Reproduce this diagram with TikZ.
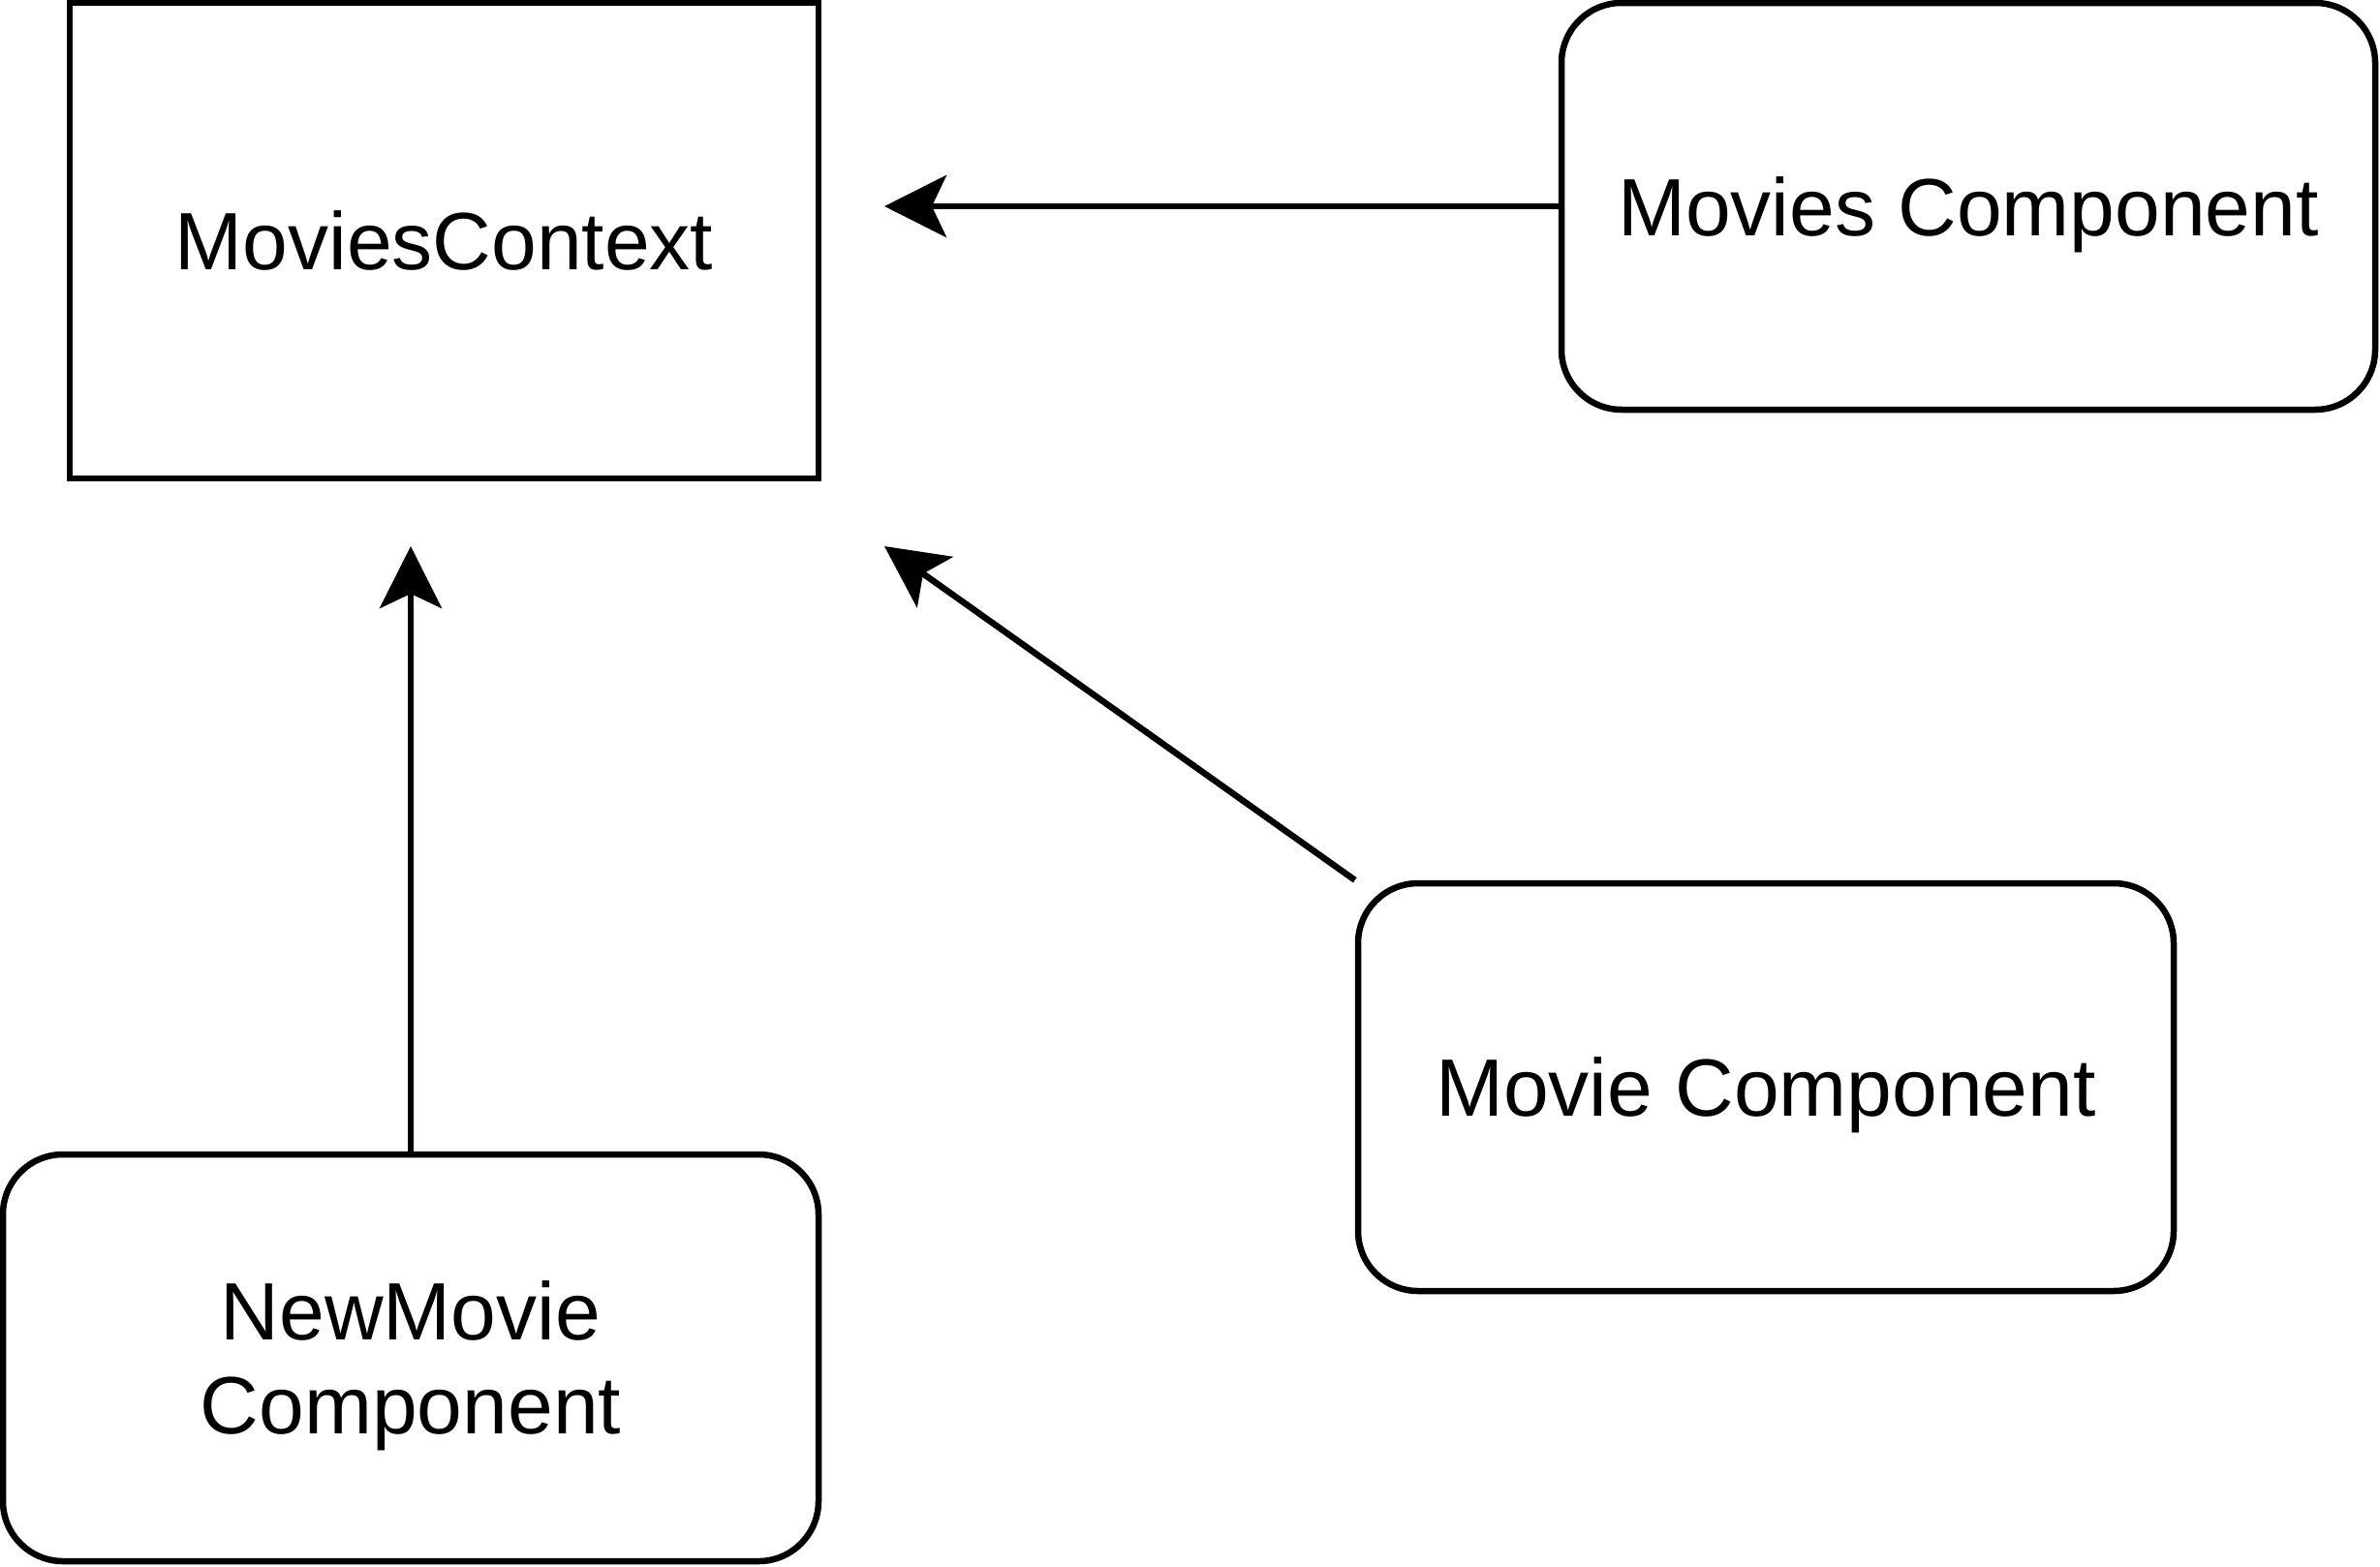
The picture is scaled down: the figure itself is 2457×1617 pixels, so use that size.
\documentclass[tikz,border=0pt]{standalone}
\usepackage{fontspec}
\setmainfont{Liberation Sans}
\usetikzlibrary{arrows.meta}
\begin{document}
\begin{tikzpicture}[x=1pt,y=-1pt,
  box/.style={draw=black,line width=6.5pt,fill=white,align=center,font=\fontsize{84}{97}\selectfont,inner sep=0pt,text depth=0pt},
  rbox/.style={box,rounded corners=62pt},
  conn/.style={draw=black,line width=6.5pt,-{Stealth[length=64pt,width=64pt,inset=15pt]}}]
\useasboundingbox (0,0) rectangle (2457,1617);
\node[box,minimum width=773pt,minimum height=491pt] (ctx) at (458.5,248.5) {MoviesContext};
\node[rbox,minimum width=840pt,minimum height=420pt] (mc) at (2032,213) {Movies Component};
\node[rbox,minimum width=842pt,minimum height=421pt] (mv) at (1823,1122.5) {Movie Component};
\node[rbox,minimum width=842pt,minimum height=420pt] (nm) at (424,1402) {NewMovie\\Component};
\coordinate (t1) at (913,213);
\coordinate (t2) at (913,564);
\coordinate (t3) at (424,564);
\draw[conn] (mc.west) -- (t1);
\draw[conn] (mv.north west) -- (t2);
\draw[conn] (nm.north) -- (t3);
\end{tikzpicture}
\end{document}
